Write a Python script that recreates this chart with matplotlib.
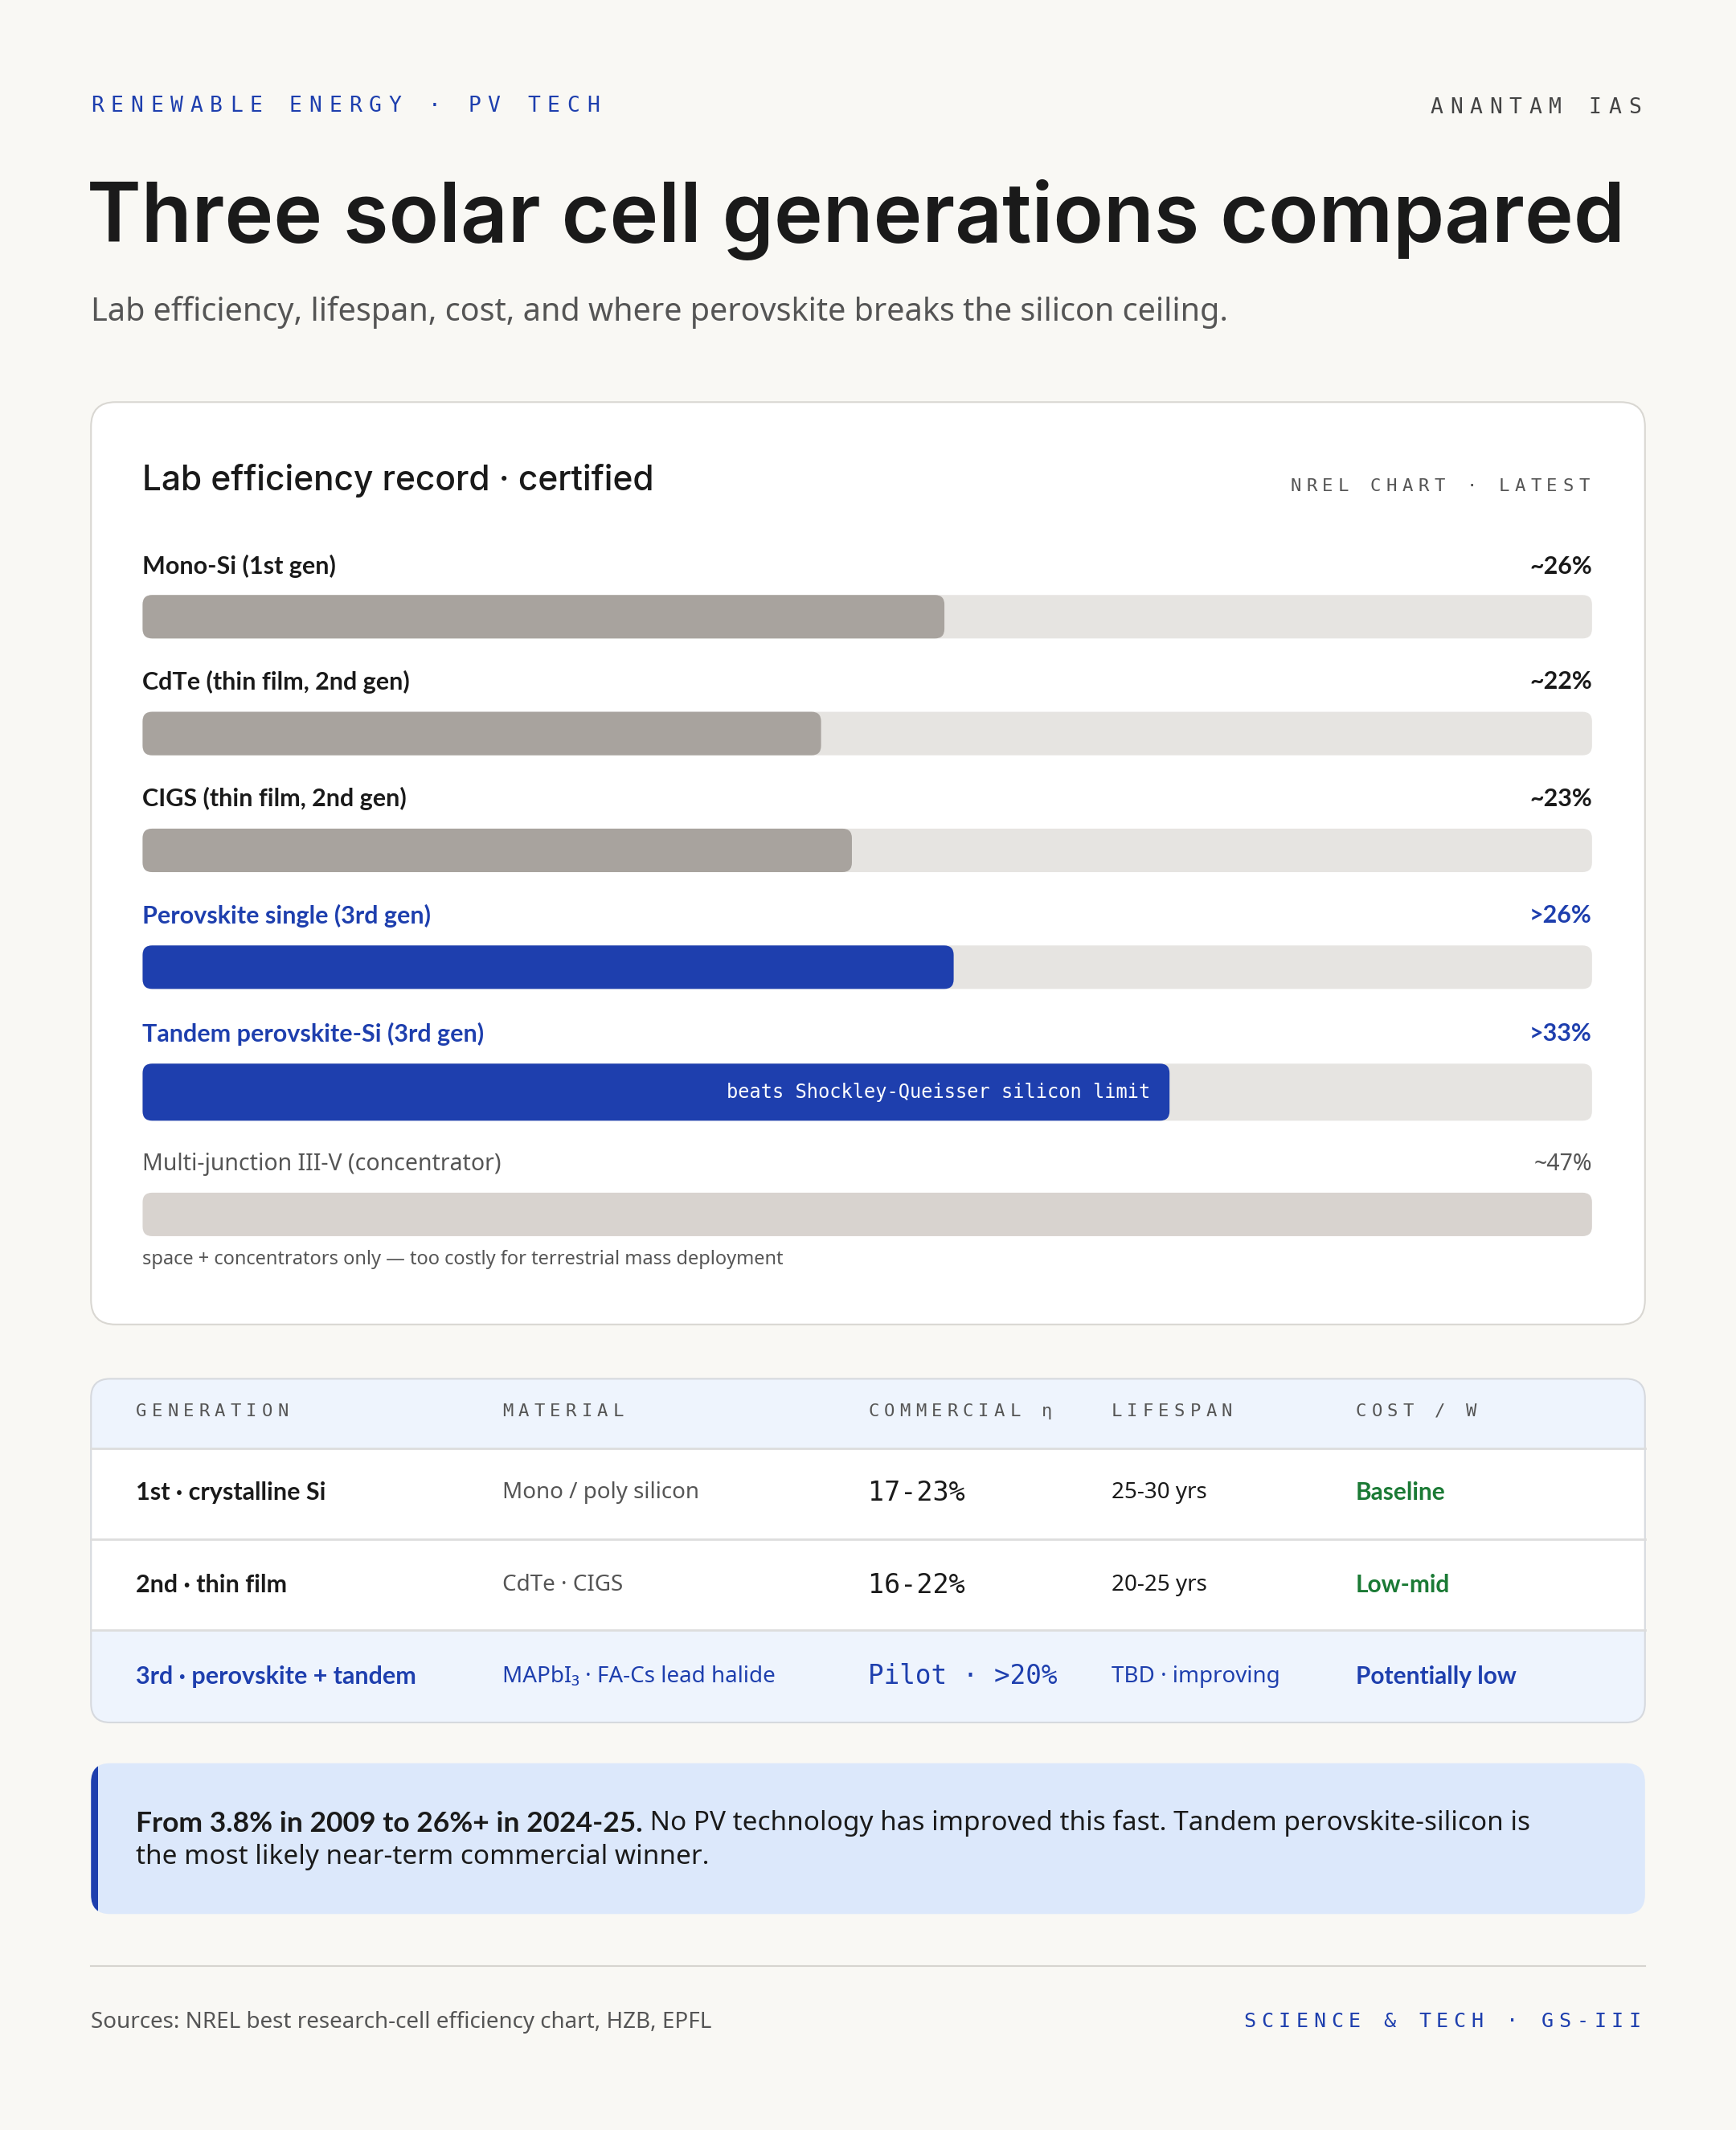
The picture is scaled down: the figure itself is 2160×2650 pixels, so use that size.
import matplotlib
matplotlib.use("Agg")
import matplotlib.pyplot as plt
from matplotlib.patches import FancyBboxPatch, Rectangle

# ---------------- data ----------------
bar_labels = ["Mono-Si (1st gen)", "CdTe (thin film, 2nd gen)", "CIGS (thin film, 2nd gen)",
              "Perovskite single (3rd gen)", "Tandem perovskite-Si (3rd gen)",
              "Multi-junction III-V (concentrator)"]
bar_values = [26, 22, 23, 26.3, 33.3, 47]
bar_value_text = ["~26%", "~22%", "~23%", ">26%", ">33%", "~47%"]
bar_kind = ["old", "old", "old", "new", "new", "muted"]
scale_max = 47

table_cols = ["GENERATION", "MATERIAL", "COMMERCIAL η", "LIFESPAN", "COST / W"]
table_gen = ["1st · crystalline Si", "2nd · thin film", "3rd · perovskite + tandem"]
table_mat = ["Mono / poly silicon", "CdTe · CIGS", "MAPbI₃ · FA-Cs lead halide"]
table_eff = ["17-23%", "16-22%", "Pilot · >20%"]
table_life = ["25-30 yrs", "20-25 yrs", "TBD · improving"]
table_cost = ["Baseline", "Low-mid", "Potentially low"]

# ---------------- style ----------------
BG = "#F9F8F4"
BLUE = "#1E3FAE"
DARK = "#1A1A1A"
GREEN = "#1B7A35"
SANS = ["Noto Sans", "DejaVu Sans"]
BOLD = ["Lato", "DejaVu Sans"]
MONO = ["DejaVu Sans Mono"]
PT = 1.217  # points per display px

W, H = 1278, 1568
fig = plt.figure(figsize=(21.6, 26.5), dpi=100, facecolor=BG)
ax = fig.add_axes([0, 0, 1, 1])
ax.set_xlim(0, W); ax.set_ylim(H, 0); ax.axis("off")


def spaced(x, y, s, step, size, color, right=False, **kw):
    n = len(s)
    charw = 0.6 * size / PT
    if right:
        x = x - (n - 1) * step - charw
    for i, c in enumerate(s):
        if c != " ":
            ax.text(x + i * step, y, c, fontsize=size, color=color, family=MONO,
                    ha="left", va="center", **kw)

# ---------------- header ----------------
spaced(67, 78, "RENEWABLE ENERGY · PV TECH", 14.6, 19, BLUE)
spaced(1208, 79, "ANANTAM IAS", 14.6, 19, "#444444", right=True)
ax.text(64, 162, "Three solar cell generations compared", fontsize=74, family=["Inter"],
        weight="semibold", color=DARK, va="center", ha="left")
ax.text(67, 230, "Lab efficiency, lifespan, cost, and where perovskite breaks the silicon ceiling.",
        fontsize=28.5, family=SANS, color="#555555", va="center")

# ---------------- card ----------------
ax.add_patch(FancyBboxPatch((67, 296), 1144, 679, boxstyle="round,pad=0,rounding_size=18",
                            fc="white", ec="#D9D7D2", lw=1.5))
ax.text(105, 354, "Lab efficiency record · certified", fontsize=30.5, family=["Inter"],
        weight="medium", color=DARK, va="center")
spaced(1170, 358, "NREL CHART · LATEST", 11.8, 16, "#555555", right=True)

label_y = [417, 502, 588, 674, 761, 857]
bar_y = [454, 540, 626, 712, 804, 894]
bar_h = [32, 32, 32, 32, 42, 32]
fills = {"old": "#A8A39E", "new": "#1E3FAE", "muted": "#D8D3CF"}
for lab, vt, k, ly in zip(bar_labels, bar_value_text, bar_kind, label_y):
    if k == "muted":
        ax.text(105, ly, lab, fontsize=20.5, family=SANS, color="#555555", va="center")
        ax.text(1172, ly, vt, fontsize=20.5, family=SANS, color="#555555", va="center", ha="right")
    else:
        c = DARK if k == "old" else BLUE
        ax.text(105, ly, lab, fontsize=22, family=BOLD, weight="bold", color=c, va="center")
        ax.text(1172, ly, vt, fontsize=22, family=BOLD, weight="bold", color=c, va="center",
                ha="right")
ax.text(105, 927, "space + concentrators only — too costly for terrestrial mass deployment",
        fontsize=17, family=SANS, color="#555555", va="center")

bx = fig.add_axes([105 / W, 1 - 925 / H, (1172 - 105) / W, 545 / H])
bx.set_xlim(0, scale_max); bx.set_ylim(925, 380); bx.axis("off")
bx.patch.set_alpha(0)
px_per_unit = (1172 - 105) / scale_max
r = 7 / px_per_unit
for v, k, y, h in zip(bar_values, bar_kind, bar_y, bar_h):
    if k != "muted":
        bx.add_patch(FancyBboxPatch((0, y - h / 2), scale_max, h,
                                    boxstyle=f"round,pad=0,rounding_size={r}",
                                    mutation_aspect=px_per_unit, fc="#E6E4E1", ec="none"))
    bx.add_patch(FancyBboxPatch((0, y - h / 2), v, h, boxstyle=f"round,pad=0,rounding_size={r}",
                                mutation_aspect=px_per_unit, fc=fills[k], ec="none"))
bx.text(bar_values[4] - 14 / px_per_unit, bar_y[4], "beats Shockley-Queisser silicon limit",
        fontsize=17, family=MONO, color="white", ha="right", va="center")

# ---------------- table ----------------
tb = FancyBboxPatch((67, 1015), 1144, 253, boxstyle="round,pad=0,rounding_size=14",
                    fc="white", ec="none")
ax.add_patch(tb)
for y0, y1, col in [(1015, 1066, "#EEF4FD"), (1200, 1268, "#EEF4FD")]:
    rr = Rectangle((67, y0), 1144, y1 - y0, fc=col, ec="none")
    ax.add_patch(rr); rr.set_clip_path(tb)
for yl in [1066, 1133, 1200]:
    ax.plot([67, 1211], [yl, yl], color="#DDDDDD", lw=2)
ax.add_patch(FancyBboxPatch((67, 1015), 1144, 253, boxstyle="round,pad=0,rounding_size=14",
                            fc="none", ec="#D6D9DE", lw=1.5))
col_x = [100, 370, 639, 818, 998]
for cx, h in zip(col_x, table_cols):
    spaced(cx, 1039, h, 11.6, 16, "#555555")
row_y = [1099, 1167, 1234]
for i, ry in enumerate(row_y):
    last = i == 2
    ax.text(col_x[0], ry, table_gen[i], fontsize=22, family=BOLD, weight="bold",
            color=BLUE if last else DARK, va="center")
    ax.text(col_x[1], ry, table_mat[i], fontsize=20, family=SANS,
            color=BLUE if last else "#555555", va="center")
    ax.text(col_x[2], ry, table_eff[i], fontsize=23.5 if last else 24, family=MONO,
            color=BLUE if last else DARK, va="center")
    ax.text(col_x[3], ry, table_life[i], fontsize=20, family=SANS,
            color=BLUE if last else DARK, va="center")
    ax.text(col_x[4], ry, table_cost[i], fontsize=21.5, family=BOLD, weight="bold",
            color=BLUE if last else GREEN, va="center")

# ---------------- callout ----------------
cb = FancyBboxPatch((67, 1298), 1144, 111, boxstyle="round,pad=0,rounding_size=14",
                    fc="#DCE8FB", ec="none")
ax.add_patch(cb)
lb = Rectangle((67, 1298), 5, 111, fc=BLUE, ec="none")
ax.add_patch(lb); lb.set_clip_path(cb)
t1 = ax.text(100, 1352, "From 3.8% in 2009 to 26%+ in 2024-25.", fontsize=25.5, family=BOLD,
             weight="bold", color=DARK, va="bottom")
ax.annotate(" No PV technology has improved this fast. Tandem perovskite-silicon is",
            xy=(1, 0), xycoords=t1, fontsize=24, family=SANS, color=DARK, va="bottom")
ax.text(100, 1367, "the most likely near-term commercial winner.", fontsize=24, family=SANS,
        color=DARK, va="center")

# ---------------- footer ----------------
ax.plot([67, 1211], [1447, 1447], color="#D6D4CF", lw=1.5)
ax.text(67, 1489, "Sources: NREL best research-cell efficiency chart, HZB, EPFL", fontsize=20,
        family=SANS, color="#555555", va="center")
spaced(1208, 1488, "SCIENCE & TECH · GS-III", 12.9, 18, BLUE, right=True)

fig.savefig("out.png", dpi=100, facecolor=BG)
